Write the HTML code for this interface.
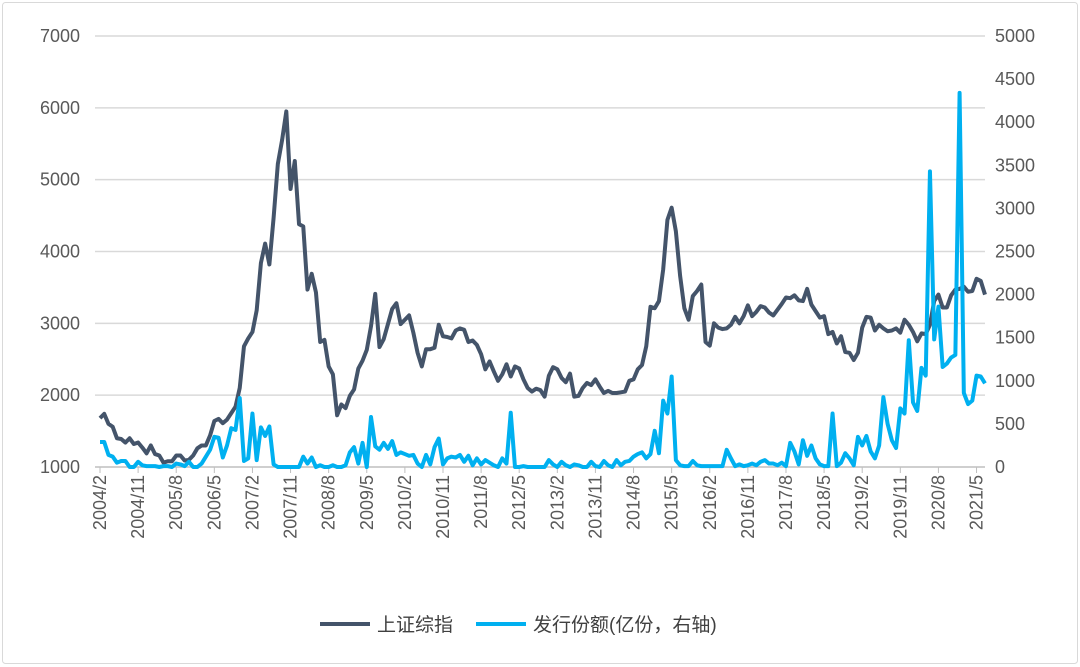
<!DOCTYPE html>
<html><head><meta charset="utf-8"><style>
body{margin:0;background:#fff}
svg{display:block;font-family:"Liberation Sans","Noto Sans CJK SC",sans-serif}
</style></head><body>
<svg id="chart" width="1080" height="667" viewBox="0 0 1080 667">
<rect x="2.5" y="2.5" width="1075" height="661" fill="#fff" stroke="#d9d9d9" rx="3"/>
<g id="grid"></g><g id="axes"></g><g id="series"></g>
<g>
<line x1="320" y1="624" x2="370" y2="624" stroke="#44546a" stroke-width="4"/>
<text x="377" y="631" font-size="19" fill="#404040">上证综指</text>
<line x1="476" y1="624" x2="526" y2="624" stroke="#00b0f0" stroke-width="4"/>
<text x="533" y="631" font-size="19" fill="#404040">发行份额(亿份，右轴)</text>
</g>
</svg>
<script>
const tickLabelsX=["2004/2","2004/11","2005/8","2006/5","2007/2","2007/11","2008/8","2009/5","2010/2","2010/11","2011/8","2012/5","2013/2","2013/11","2014/8","2015/5","2016/2","2016/11","2017/8","2018/5","2019/2","2019/11","2020/8","2021/5"];
const leftTicks=[1000,2000,3000,4000,5000,6000,7000];
const rightTicks=[0,500,1000,1500,2000,2500,3000,3500,4000,4500,5000];
const shIndex=[1680,1740,1600,1560,1400,1390,1340,1400,1320,1340,1270,
1190,1300,1180,1160,1060,1080,1080,1160,1160,1090,1100,1160,
1260,1300,1300,1440,1640,1670,1610,1660,1750,1840,2100,2680,
2790,2880,3180,3840,4110,3820,4470,5220,5550,5950,4870,5260,
4380,4350,3470,3690,3430,2740,2770,2400,2290,1720,1870,1820,
1990,2080,2370,2480,2630,2960,3410,2670,2780,2990,3200,3280,
2990,3050,3110,2870,2590,2400,2640,2640,2660,2980,2820,2810,
2790,2900,2930,2910,2740,2760,2700,2570,2360,2470,2330,2200,
2290,2430,2260,2400,2370,2220,2100,2050,2090,2070,1980,2270,
2390,2360,2240,2180,2300,1980,1990,2100,2170,2140,2220,2120,
2030,2060,2030,2030,2040,2050,2200,2220,2360,2420,2680,3230,
3210,3310,3750,4440,4610,4280,3660,3210,3050,3380,3450,3540,
2740,2690,3000,2940,2920,2930,2980,3090,3000,3100,3250,3100,
3160,3240,3220,3150,3110,3190,3270,3360,3350,3390,3320,3310,
3480,3260,3170,3080,3100,2850,2880,2720,2820,2600,2590,2490,
2590,2940,3090,3080,2900,2980,2930,2890,2900,2930,2870,3050,
2980,2880,2750,2860,2850,2980,3310,3400,3220,3220,3390,3470,
3480,3510,3440,3450,3620,3590,3400];
const issuance=[290,290,140,120,50,70,70,0,0,60,20,
10,10,10,0,10,10,0,40,30,10,60,0,
0,40,120,200,350,340,110,250,450,430,800,70,
100,620,80,460,360,470,30,0,0,0,0,0,
0,120,40,110,0,20,0,0,20,0,0,20,
170,230,40,280,0,580,240,200,280,210,300,140,
170,150,130,140,40,0,140,30,230,330,30,100,
120,110,140,60,130,20,100,30,80,50,20,0,
100,40,630,0,0,10,0,0,0,0,0,80,
30,0,60,20,0,30,20,0,0,60,10,0,
70,20,0,80,20,60,70,120,150,170,100,150,
420,160,770,620,1050,80,20,10,10,70,20,10,
10,10,10,10,10,200,100,10,30,10,20,40,
20,60,80,40,40,20,50,10,280,180,30,310,
130,250,100,30,10,10,620,10,50,160,100,20,
350,250,360,180,100,250,810,500,310,220,680,620,
1470,750,650,1150,1060,3430,1480,1860,1160,1200,1270,1300,
4340,860,730,770,1060,1050,970];

const NS="http://www.w3.org/2000/svg";
const X0=100,X1=985,TOP=36,BOT=467;
const n=shIndex.length;
const xS=i=>X0+i*(X1-X0)/(n-1);
const yL=v=>BOT-(v-1000)/6000*(BOT-TOP);
const yR=v=>BOT-v/5000*(BOT-TOP);
function mk(tag,attrs,parent){const e=document.createElementNS(NS,tag);for(const k in attrs)e.setAttribute(k,attrs[k]);parent.appendChild(e);return e;}
const grid=document.getElementById('grid'),axes=document.getElementById('axes'),ser=document.getElementById('series');
leftTicks.forEach(v=>{
  const l=mk('line',{x1:95,x2:X1,y1:yL(v),y2:yL(v),stroke:v===1000?'#bfbfbf':'#d9d9d9','stroke-width':1.5},grid);
  
  
  const t=mk('text',{x:80,y:yL(v)+6,'text-anchor':'end','font-size':18,fill:'#595959'},axes);
  t.textContent=v;
  
  
});
rightTicks.forEach(v=>{
  const t=mk('text',{x:995,y:yR(v)+6,'font-size':18,fill:'#595959'},axes);
  t.textContent=v;
  
  
});
tickLabelsX.forEach((s,k)=>{
  const x=xS(k*9);
  const tk=mk('line',{x1:x,x2:x,y1:BOT,y2:BOT+6,stroke:'#bfbfbf','stroke-width':1},axes);
  
  
  const t=mk('text',{x:0,y:0,'text-anchor':'end','font-size':18,fill:'#595959',transform:`translate(${x+6},${BOT+8}) rotate(-90)`},axes);
  t.textContent=s;
  
  
});
const p1=mk('polyline',{points:shIndex.map((v,i)=>xS(i)+','+yL(v)).join(' '),fill:'none',stroke:'#44546a','stroke-width':4,'stroke-linejoin':'round'},ser);


const p2=mk('polyline',{points:issuance.map((v,i)=>xS(i)+','+yR(v)).join(' '),fill:'none',stroke:'#00b0f0','stroke-width':4,'stroke-linejoin':'round'},ser);


</script>
</body></html>
